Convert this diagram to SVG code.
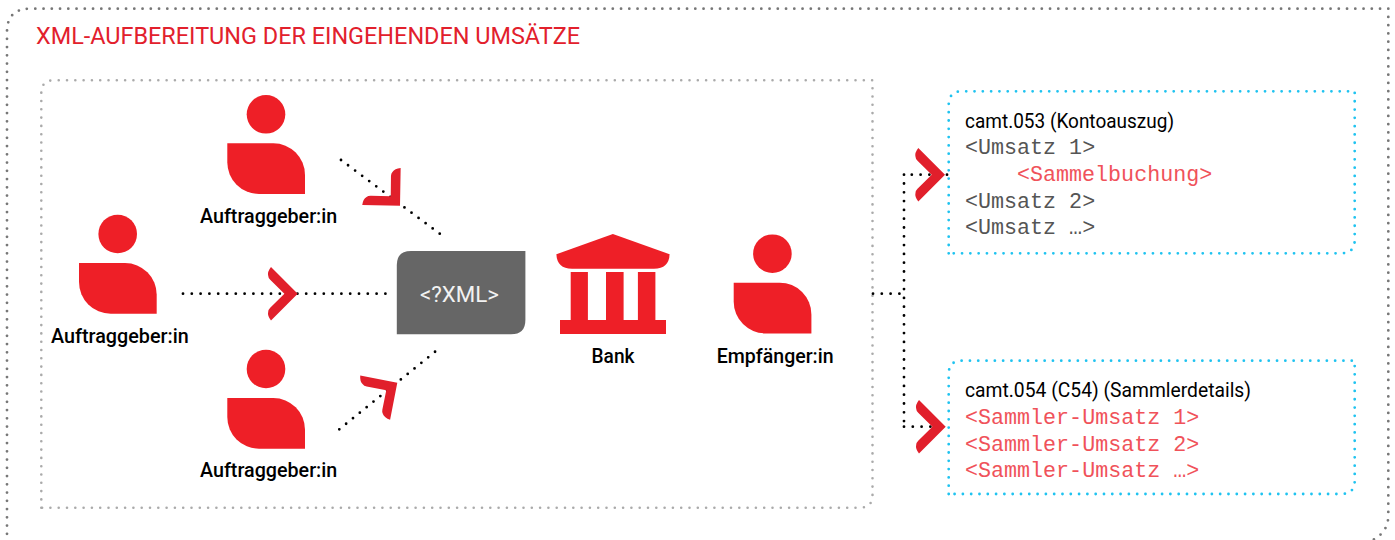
<svg xmlns="http://www.w3.org/2000/svg" width="1395" height="540" viewBox="0 0 1395 540">
<style>
.bg{fill:#fff}
.red{fill:#ee1f27}
.chev{fill:#e11f2b}
.dot{fill:none;stroke-linecap:round}
.outer{stroke:#777;stroke-width:2.8;stroke-dasharray:0 8.25}
.inner{stroke:#aaa;stroke-width:2.6;stroke-dasharray:0 8.3}
.cyan{stroke:#1fc3f0;stroke-width:2.8;stroke-dasharray:0 8.3}
.conn{stroke:#000;stroke-width:2.8;stroke-dasharray:0 8.8}
.lab{font-family:Roboto,"Noto Sans",sans-serif;font-weight:500;font-size:19.5px;fill:#000}
.head{font-family:Roboto,"Noto Sans",sans-serif;font-weight:400;font-size:19.5px;fill:#000}
.mono{font-family:"Liberation Mono",monospace;font-size:21.7px;fill:#555;white-space:pre}
.monor{font-family:"Liberation Mono",monospace;font-size:21.7px;fill:#f0525a;white-space:pre}
</style>
<defs>
<path id="chv" d="M0 0L-26.7 -26.7Q-30.5 -22 -29.5 -18Q-29.5 -16 -27.5 -14L-13.3 0L-27.5 14Q-29.5 16 -29.5 18Q-30.5 22 -26.7 26.7Z"/>
<g id="person">
<circle cx="38.7" cy="-29" r="19.3"/>
<path d="M0 0H46A31.7 31.7 0 0 1 77.7 31.7V50.7H31.7A31.7 31.7 0 0 1 0 19Z"/>
</g>
</defs>
<rect class="bg" width="1395" height="540"/>
<path id="frame-outer" class="dot outer" d="M1388.3 8.7H30Q7 8.7 7 32V540M1388.3 8.7V516Q1388 532 1373 540"/>
<path id="frame-inner" class="dot inner" d="M41.3 507.7V93Q41.3 80.3 54 80.3H872.5V495Q872.5 507.7 860 507.7H41.3"/>
<text id="title" x="36" y="44" font-family="Roboto,'Noto Sans',sans-serif" font-size="23.5" fill="#e2202c" textLength="544" lengthAdjust="spacingAndGlyphs">XML-AUFBEREITUNG DER EINGEHENDEN UMSÄTZE</text>
<g id="connectors">
<path class="dot conn" d="M341 160L440.5 234.3"/>
<path class="dot conn" d="M183 293.7H387"/>
<path class="dot conn" d="M339.3 429.3L436 351"/>
<path class="dot conn" d="M873 293.7H904"/>
<path class="dot conn" d="M904 174.7V426.7"/>
<path class="dot conn" d="M947 174.7H904"/>
<path class="dot conn" d="M904 426.7H935"/>
<use href="#chv" class="chev" transform="translate(400 205.7) rotate(46)"/>
<use href="#chv" class="chev" transform="translate(297.7 293.7)"/>
<use href="#chv" class="chev" transform="translate(397.3 382.7) rotate(-34)"/>
<use href="#chv" class="chev" transform="translate(945 174.7)"/>
<use href="#chv" class="chev" transform="translate(945.7 426.7)"/>
</g>
<g id="sender-top">
<use href="#person" class="red" transform="translate(227.3 143.3)"/>
<text class="lab" x="200" y="222.7" textLength="137.3" lengthAdjust="spacingAndGlyphs">Auftraggeber:in</text>
</g>
<g id="sender-left">
<use href="#person" class="red" transform="translate(79 263)"/>
<text class="lab" x="51" y="342.7" textLength="137.7" lengthAdjust="spacingAndGlyphs">Auftraggeber:in</text>
</g>
<g id="sender-bottom">
<use href="#person" class="red" transform="translate(227.3 398)"/>
<text class="lab" x="200" y="477.3" textLength="137.3" lengthAdjust="spacingAndGlyphs">Auftraggeber:in</text>
</g>
<g id="xml">
<path fill="#666" d="M411 251H525.4V320Q525.4 334.3 511 334.3H396.8V265Q396.8 251 411 251Z"/>
<text x="420" y="301.7" font-family="Roboto,'Noto Sans',sans-serif" font-size="22.5" fill="#f2f2f2" textLength="79" lengthAdjust="spacingAndGlyphs">&lt;?XML&gt;</text>
</g>
<g id="bank">
<path class="red" d="M612.9 234L669.6 254.3Q669 268.7 654 268.7H572Q557 268.7 556.4 254.3Z"/>
<rect class="red" x="570.7" y="272" width="17.2" height="49"/>
<rect class="red" x="606" y="272" width="17.6" height="49"/>
<rect class="red" x="637.9" y="272" width="17.5" height="49"/>
<rect class="red" x="560" y="320" width="106" height="14"/>
<text class="lab" x="591.5" y="362.7" textLength="43" lengthAdjust="spacingAndGlyphs">Bank</text>
</g>
<g id="receiver">
<use href="#person" class="red" transform="translate(733.7 282.7)"/>
<text class="lab" x="716.8" y="362.7" textLength="116.8" lengthAdjust="spacingAndGlyphs">Empfänger:in</text>
</g>
<g id="camt053">
<path class="dot cyan" d="M948.7 253.3V105Q948.7 91.3 962 91.3H1354.7V240Q1354.7 253.3 1341 253.3H948.7"/>
<text class="head" x="965" y="127.7" textLength="209" lengthAdjust="spacingAndGlyphs">camt.053 (Kontoauszug)</text>
<text class="mono" x="965" y="153.7">&lt;Umsatz 1&gt;</text>
<text class="monor" x="1017" y="180.7">&lt;Sammelbuchung&gt;</text>
<text class="mono" x="965" y="207.7">&lt;Umsatz 2&gt;</text>
<text class="mono" x="965" y="234">&lt;Umsatz …&gt;</text>
</g>
<g id="camt054">
<path class="dot cyan" d="M948.7 494V374Q948.7 360.7 962 360.7H1354.7V481Q1354.7 494 1341 494H948.7"/>
<text class="head" x="965" y="396.7" textLength="286" lengthAdjust="spacingAndGlyphs">camt.054 (C54) (Sammlerdetails)</text>
<text class="monor" x="965" y="424">&lt;Sammler-Umsatz 1&gt;</text>
<text class="monor" x="965" y="450.7">&lt;Sammler-Umsatz 2&gt;</text>
<text class="monor" x="965" y="476.7">&lt;Sammler-Umsatz …&gt;</text>
</g>
</svg>
